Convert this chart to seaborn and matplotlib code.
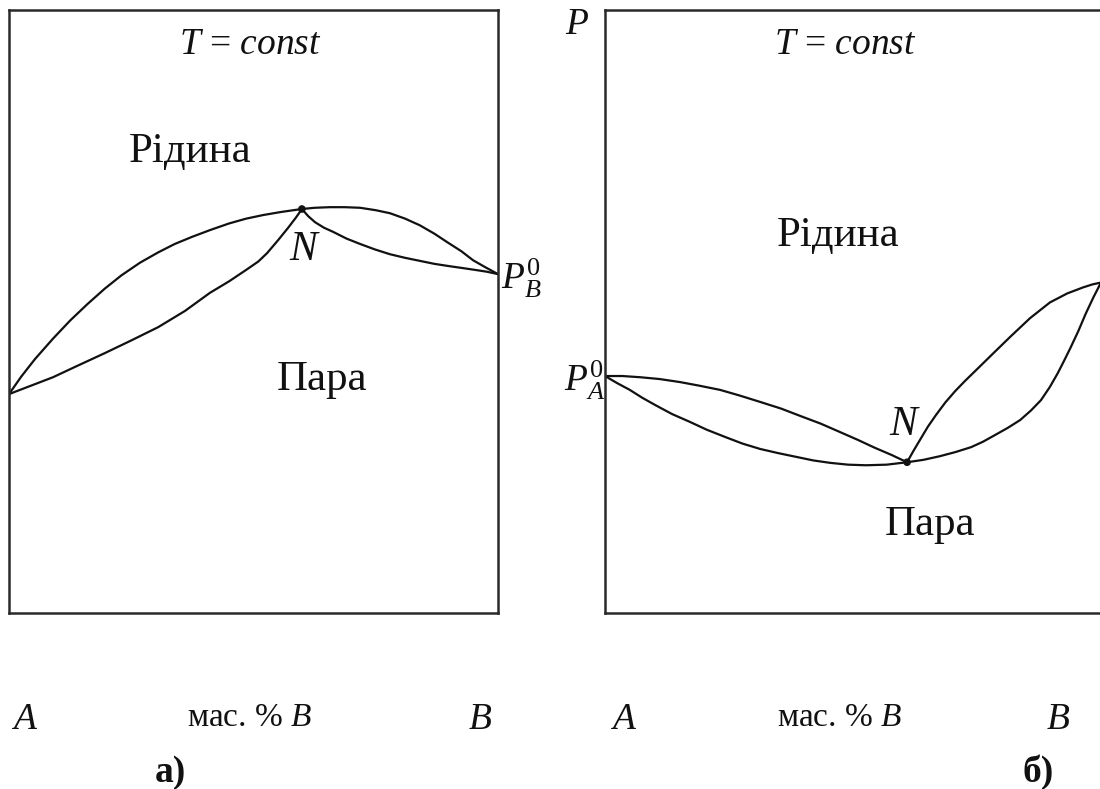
import matplotlib
matplotlib.use("Agg")
import matplotlib.pyplot as plt
import seaborn as sns
import pandas as pd

# ---- data: composition (mass % B) vs pressure, arbitrary units 0..100 ----
# a) positive deviation: azeotrope N is a pressure maximum
a_liq_left_x = [0, 2.5, 5.3, 9, 12.5, 16, 19.6, 23, 26.8, 30.5, 33.9, 37.5,
                41.1, 45, 48.5, 52, 55.6, 59.9]
a_liq_left_y = [36.3, 39.2, 42.1, 45.5, 48.5, 51.2, 53.8, 56.0, 58.1, 59.8,
                61.2, 62.4, 63.5, 64.6, 65.4, 66.0, 66.5, 67.0]
a_vap_left_x = [0, 4.5, 9.0, 14, 19.6, 25, 30.5, 36, 41.1, 45, 48.5, 51,
                52.8, 55, 57.1, 58.7, 59.9]
a_vap_left_y = [36.3, 37.7, 39.1, 41.0, 43.1, 45.2, 47.4, 50.1, 53.1, 55.0,
                56.9, 58.3, 59.7, 61.8, 63.9, 65.6, 67.0]
a_liq_right_x = [59.9, 62.5, 65.6, 68.7, 71.8, 75, 77.9, 81, 84.0, 87, 89.8,
                 92.5, 94.9, 97.5, 100]
a_liq_right_y = [67.0, 67.2, 67.3, 67.3, 67.2, 66.8, 66.3, 65.4, 64.3, 62.9,
                 61.4, 60.0, 58.5, 57.3, 56.2]
a_vap_right_x = [59.9, 61.2, 62.6, 64.4, 66.3, 69, 71.8, 74.8, 77.9, 81, 84.0,
                 87, 90.2, 92.8, 95.3, 97.7, 100]
a_vap_right_y = [67.0, 65.8, 64.8, 63.9, 63.2, 62.1, 61.2, 60.3, 59.5, 58.9,
                 58.4, 57.9, 57.5, 57.2, 56.9, 56.6, 56.2]
a_azeo = (59.9, 67.0)

# b) negative deviation: azeotrope N is a pressure minimum
b_liq_left_x = [0, 3.5, 7.1, 11, 15.1, 19, 23.2, 27, 31.3, 35.5, 39.3, 43.5,
                47.4, 51, 54.4, 57.8, 60.9]
b_liq_left_y = [39.3, 39.3, 39.1, 38.8, 38.3, 37.7, 37.0, 36.1, 35.0, 33.9,
                32.7, 31.4, 30.0, 28.7, 27.4, 26.2, 25.0]
b_vap_left_x = [0, 2.5, 5.0, 7.5, 10.1, 13.5, 17.1, 20.5, 24.2, 27.7, 31.3,
                35, 38.5, 42, 45.4, 49, 52.6, 56.8, 60.9]
b_vap_left_y = [39.3, 38.1, 37.0, 35.7, 34.5, 33.0, 31.7, 30.4, 29.2, 28.1,
                27.2, 26.5, 25.9, 25.3, 24.9, 24.6, 24.5, 24.6, 25.0]
b_liq_right_x = [60.9, 62.2, 63.5, 65.1, 66.7, 68.6, 70.6, 72.6, 74.6, 78.2,
                 81.7, 85.7, 89.7, 93.2, 96.4, 98.3, 100]
b_liq_right_y = [25.0, 26.9, 28.7, 30.9, 32.8, 34.9, 36.8, 38.5, 40.1, 43.0,
                 45.8, 48.9, 51.5, 53.0, 54.0, 54.5, 54.8]
b_vap_right_x = [60.9, 64.2, 67.5, 70.7, 73.8, 76.2, 78.6, 81.2, 83.7, 85.9,
                 87.9, 89.7, 91.3, 92.6, 93.8, 95.4, 96.9, 98.5, 100]
b_vap_right_y = [25.0, 25.4, 26.0, 26.7, 27.5, 28.4, 29.5, 30.7, 32.0, 33.6,
                 35.3, 37.5, 39.8, 41.9, 43.9, 46.7, 49.6, 52.4, 54.8]
b_azeo = (60.9, 25.0)

region_labels = ["Рідина", "Пара"]
axis_label = "мас. % $B$"
panel_labels = ["а)", "б)"]

sns.set_theme(style="white")
plt.rcParams["font.family"] = ["Liberation Serif", "DejaVu Serif"]
plt.rcParams["mathtext.fontset"] = "custom"
plt.rcParams["mathtext.rm"] = "Liberation Serif"
plt.rcParams["mathtext.it"] = "Liberation Serif:italic"
plt.rcParams["mathtext.bf"] = "Liberation Serif:bold"

W, H = 1100, 789
fig = plt.figure(figsize=(W / 100, H / 100), dpi=100)
fig.patch.set_facecolor("white")


def px_axes(x0, y0, x1, y1):
    return fig.add_axes([x0 / W, 1 - y1 / H, (x1 - x0) / W, (y1 - y0) / H])


def ftext(x, y, s, size=26, **kw):
    fig.text(x / W, 1 - y / H, s, fontsize=size, ha="center", va="center",
             color="#111111", **kw)


ax_a = px_axes(9, 10, 498, 613)
ax_b = px_axes(605, 10, 1101, 613)

curves = {
    ax_a: [(a_liq_left_x, a_liq_left_y), (a_vap_left_x, a_vap_left_y),
           (a_liq_right_x, a_liq_right_y), (a_vap_right_x, a_vap_right_y)],
    ax_b: [(b_liq_left_x, b_liq_left_y), (b_vap_left_x, b_vap_left_y),
           (b_liq_right_x, b_liq_right_y), (b_vap_right_x, b_vap_right_y)],
}

for ax, segs in curves.items():
    for xs, ys in segs:
        df = pd.DataFrame({"x": xs, "p": ys})
        sns.lineplot(data=df, x="x", y="p", ax=ax, color="#111111",
                     linewidth=1.6, sort=False, estimator=None)
    ax.set_xlim(0, 100)
    ax.set_ylim(0, 100)
    ax.set_xticks([])
    ax.set_yticks([])
    ax.set_xlabel("")
    ax.set_ylabel("")
    for sp in ax.spines.values():
        sp.set_visible(True)
        sp.set_color("#2a2a2a")
        sp.set_linewidth(1.8)

for ax, pt in ((ax_a, a_azeo), (ax_b, b_azeo)):
    sns.scatterplot(x=[pt[0]], y=[pt[1]], ax=ax, color="#111111", s=30,
                    edgecolor="none", zorder=5)
    ax.set_xlabel("")
    ax.set_ylabel("")

# panel a) labels
ftext(250, 45, "$T$ = $const$", size=27)
ftext(190, 152, region_labels[0], size=31)
ftext(322, 380, region_labels[1], size=31)
ftext(305, 250, "$N$", size=30)
ftext(521, 278, r"$P_B^{\mathrm{0}}$", size=27)
ftext(25, 720, "$A$", size=27)
ftext(250, 718, axis_label, size=24)
ftext(480, 720, "$B$", size=27)
ftext(170, 772, panel_labels[0], size=27, fontweight="bold")

# panel b) labels
ftext(577, 25, "$P$", size=27)
ftext(845, 45, "$T$ = $const$", size=27)
ftext(838, 236, region_labels[0], size=31)
ftext(585, 380, r"$P_A^{\mathrm{0}}$", size=27)
ftext(905, 425, "$N$", size=30)
ftext(930, 525, region_labels[1], size=31)
ftext(624, 720, "$A$", size=27)
ftext(840, 718, axis_label, size=24)
ftext(1058, 720, "$B$", size=27)
ftext(1038, 772, panel_labels[1], size=27, fontweight="bold")

fig.savefig("out.png", dpi=100, facecolor="white")
